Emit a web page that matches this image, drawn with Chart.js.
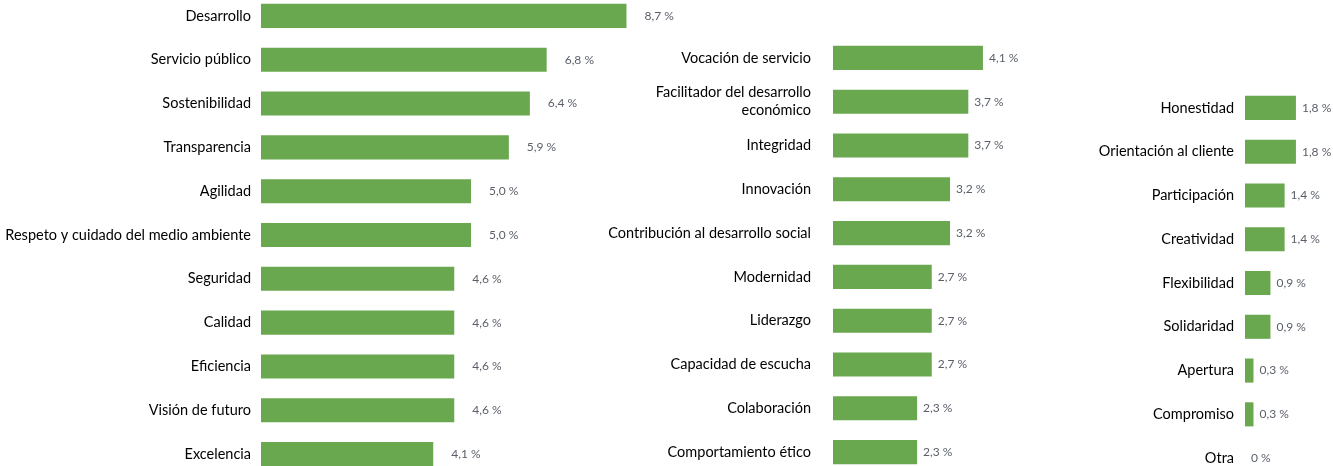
<!DOCTYPE html>
<html>
<head>
<meta charset="utf-8">
<script src="https://cdn.jsdelivr.net/npm/chart.js@4/dist/chart.umd.min.js"></script>
<style>
    body { margin: 0; background: #fff; overflow: hidden; }
    #wrap { position: relative; width: 1333px; height: 466px; overflow: hidden; }
    canvas { position: absolute; }
</style>
</head>
<body>
<div id="wrap">
    <canvas id="col1" width="700" height="482" style="left:0px; top:-6px;"></canvas>
    <canvas id="col2" width="440" height="438" style="left:600px; top:36px;"></canvas>
    <canvas id="col3" width="253" height="394" style="left:1080px; top:86px;"></canvas>
</div>

<script>
// -------- DATA --------
const labels1 = ['Desarrollo', 'Servicio público', 'Sostenibilidad', 'Transparencia', 'Agilidad',
    'Respeto y cuidado del medio ambiente', 'Seguridad', 'Calidad', 'Eficiencia', 'Visión de futuro', 'Excelencia'];
const values1 = [8.7, 6.8, 6.4, 5.9, 5.0, 5.0, 4.6, 4.6, 4.6, 4.6, 4.1];

const labels2 = ['Vocación de servicio', ['Facilitador del desarrollo', 'económico'], 'Integridad', 'Innovación',
    'Contribución al desarrollo social', 'Modernidad', 'Liderazgo', 'Capacidad de escucha', 'Colaboración', 'Comportamiento ético'];
const values2 = [4.1, 3.7, 3.7, 3.2, 3.2, 2.7, 2.7, 2.7, 2.3, 2.3];

const labels3 = ['Honestidad', 'Orientación al cliente', 'Participación', 'Creatividad', 'Flexibilidad',
    'Solidaridad', 'Apertura', 'Compromiso', 'Otra'];
const values3 = [1.8, 1.8, 1.4, 1.4, 0.9, 0.9, 0.3, 0.3, 0];

const BAR_COLOR = '#6aa84f';
const FONT = 'Lato, "Open Sans", sans-serif';

function formatPct(v) {
    return v === 0 ? '0 %' : v.toFixed(1).replace('.', ',') + ' %';
}

// value text to the right of each bar
const valueLabels = {
    id: 'valueLabels',
    afterDatasetsDraw(chart, args, opts) {
        const ctx = chart.ctx;
        const meta = chart.getDatasetMeta(0);
        const data = chart.data.datasets[0].data;
        ctx.save();
        ctx.font = '12px ' + FONT;
        ctx.fillStyle = '#5a5f69';
        ctx.textBaseline = 'middle';
        ctx.textAlign = 'left';
        meta.data.forEach((bar, i) => {
            ctx.fillText(formatPct(data[i]), bar.x + opts.gap, bar.y);
        });
        ctx.restore();
    }
};

function makePanel(id, labels, values, axisWidth, pad, xMax, gap) {
    new Chart(document.getElementById(id), {
        type: 'bar',
        data: {
            labels: labels,
            datasets: [{
                data: values,
                backgroundColor: BAR_COLOR,
                categoryPercentage: 1,
                barPercentage: 0.55
            }]
        },
        options: {
            indexAxis: 'y',
            responsive: false,
            devicePixelRatio: 1,
            animation: false,
            layout: { padding: 0 },
            plugins: {
                legend: { display: false },
                tooltip: { enabled: false },
                valueLabels: { gap: gap }
            },
            scales: {
                x: { display: false, min: 0, max: xMax },
                y: {
                    grid: { display: false, drawTicks: false },
                    border: { display: false },
                    ticks: {
                        color: '#000',
                        padding: pad,
                        autoSkip: false,
                        font: { family: FONT, size: 14.5, lineHeight: 1.25 }
                    },
                    afterFit(scale) {
                        // fixed axis width, and rows use the full canvas height
                        scale.width = axisWidth;
                        scale.paddingTop = 0;
                        scale.paddingBottom = 0;
                    }
                }
            }
        },
        plugins: [valueLabels]
    });
}

makePanel('col1', labels1, values1, 261, 10, 10.45, 18);
makePanel('col2', labels2, values2, 233, 22, 5.66, 6);
makePanel('col3', labels3, values3, 165, 11, 3.11, 6);
</script>
</body>
</html>
